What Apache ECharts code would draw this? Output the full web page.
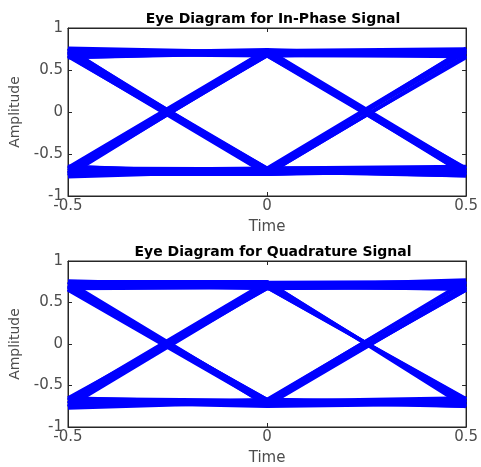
<!DOCTYPE html>
<html>
<head>
<meta charset="utf-8">
<script src="https://cdn.jsdelivr.net/npm/echarts@6/dist/echarts.min.js"></script>
<style>
  html, body { margin: 0; padding: 0; background: #ffffff; }
  #chart { width: 481px; height: 467px; }
</style>
</head>
<body>
<div id="chart"></div>
<script>
// Sampling instants of one symbol period (x positions of each trace's vertices)
const timeSamples = [-0.5, 0, 0.5];

// In-phase eye traces: amplitude at each sampling instant
const inPhaseTraces = [
  [0.71, 0.70, 0.69], [0.67, 0.73, 0.75], [0.75, 0.68, 0.66], [0.65, 0.71, 0.72],
  [0.73, -0.70, -0.74], [0.68, -0.67, -0.67], [0.76, -0.74, -0.70], [0.66, -0.71, -0.76],
  [0.70, 0.74, -0.68], [0.74, 0.67, -0.73], [0.65, 0.70, -0.75],
  [0.71, -0.68, 0.71], [0.67, -0.74, 0.67], [0.75, -0.70, 0.76],
  [-0.70, 0.72, 0.70], [-0.74, 0.68, 0.74], [-0.66, 0.74, 0.66],
  [-0.76, 0.70, -0.71], [-0.68, 0.67, -0.67], [-0.73, 0.74, -0.75],
  [-0.71, -0.70, 0.73], [-0.65, -0.74, 0.67], [-0.75, -0.67, 0.75],
  [-0.70, -0.71, -0.70], [-0.67, -0.68, -0.74], [-0.74, -0.74, -0.66],
  [-0.77, -0.70, -0.76], [0.76, 0.71, 0.70], [-0.65, -0.73, -0.72], [0.70, -0.72, 0.65],
  [0.69, 0.67, 0.71], [-0.69, -0.67, -0.69], [0.72, -0.67, -0.65], [-0.72, 0.67, 0.68]
];

// Quadrature eye traces: amplitude at each sampling instant
const quadratureTraces = [
  [0.70, 0.71, 0.72], [0.74, 0.68, 0.67], [0.67, 0.74, 0.75], [0.76, 0.70, 0.66],
  [0.71, -0.68, -0.73], [0.65, -0.73, -0.67], [0.75, -0.70, -0.75], [0.68, -0.67, -0.70],
  [0.73, 0.73, -0.71], [0.67, 0.68, -0.66], [0.75, 0.75, -0.76],
  [0.70, -0.71, 0.70], [0.66, -0.67, 0.74], [0.74, -0.74, 0.67],
  [-0.68, 0.70, 0.71], [-0.75, 0.73, 0.67], [-0.65, 0.67, 0.75],
  [-0.72, 0.71, -0.70], [-0.67, 0.75, -0.74], [-0.76, 0.68, -0.67],
  [-0.70, -0.73, 0.69], [-0.66, -0.68, 0.76], [-0.74, -0.71, 0.65],
  [-0.71, -0.70, -0.73], [-0.68, -0.74, -0.67], [-0.75, -0.67, -0.75],
  [-0.65, -0.71, -0.70], [0.71, 0.70, 0.77], [-0.77, -0.70, -0.69], [0.69, -0.70, 0.65],
  [0.72, 0.67, 0.70], [-0.70, -0.75, -0.72], [0.66, -0.69, -0.65], [-0.71, 0.67, 0.69]
];

const panels = [
  { title: 'Eye Diagram for In-Phase Signal', traces: inPhaseTraces, top: 28, height: 168 },
  { title: 'Eye Diagram for Quadrature Signal', traces: quadratureTraces, top: 261, height: 169 }
];

const axisGray = '#262626';
const labelGray = '#4d4d4d';
const fontFamily = 'DejaVu Sans, sans-serif';

const option = {
  animation: false,
  backgroundColor: '#ffffff',
  title: [],
  grid: [],
  xAxis: [],
  yAxis: [],
  series: []
};

const tickStyle = { show: true, inside: true, length: 4, lineStyle: { color: axisGray } };
const lineStyle = { show: true, onZero: false, lineStyle: { color: axisGray } };

panels.forEach((p, i) => {
  option.title.push({
    text: p.title,
    left: 268, top: p.top - 21, textAlign: 'center',
    textStyle: { fontFamily, fontSize: 14, fontWeight: 'bold', color: '#000000' }
  });
  option.grid.push({
    left: 68, right: 11, top: p.top, height: p.height,
    show: true, borderColor: axisGray, borderWidth: 1, backgroundColor: '#ffffff'
  });
  // time axis along the bottom, with labels
  option.xAxis.push({
    type: 'value', gridIndex: i, min: -0.5, max: 0.5, interval: 0.5,
    name: 'Time', nameLocation: 'middle', nameGap: 24,
    nameTextStyle: { fontFamily, fontSize: 15, color: labelGray },
    axisLine: lineStyle, axisTick: tickStyle,
    axisLabel: { fontFamily, fontSize: 15, color: labelGray, margin: 3, showMinLabel: true, showMaxLabel: true },
    splitLine: { show: false }
  });
  // mirrored ticks along the top edge
  option.xAxis.push({
    type: 'value', gridIndex: i, position: 'top', min: -0.5, max: 0.5, interval: 0.5,
    axisLine: lineStyle, axisTick: tickStyle,
    axisLabel: { show: false }, splitLine: { show: false }
  });
  option.yAxis.push({
    type: 'value', gridIndex: i, min: -1, max: 1, interval: 0.5,
    name: 'Amplitude', nameLocation: 'middle', nameGap: 41, nameRotate: 90,
    nameTextStyle: { fontFamily, fontSize: 14, color: labelGray },
    axisLine: lineStyle, axisTick: tickStyle,
    axisLabel: { fontFamily, fontSize: 15, color: labelGray, margin: 5 },
    splitLine: { show: false }
  });
  // mirrored ticks along the right edge
  option.yAxis.push({
    type: 'value', gridIndex: i, position: 'right', min: -1, max: 1, interval: 0.5,
    axisLine: lineStyle, axisTick: tickStyle,
    axisLabel: { show: false }, splitLine: { show: false }
  });
  p.traces.forEach(tr => {
    option.series.push({
      type: 'line',
      xAxisIndex: i * 2, yAxisIndex: i * 2,
      data: timeSamples.map((t, k) => [t, tr[k]]),
      showSymbol: false, silent: true,
      lineStyle: { color: '#0000ff', width: 3.5 },
      clip: true
    });
  });
});

const chart = echarts.init(document.getElementById('chart'), null, { renderer: 'canvas' });
chart.setOption(option);
</script>
</body>
</html>
